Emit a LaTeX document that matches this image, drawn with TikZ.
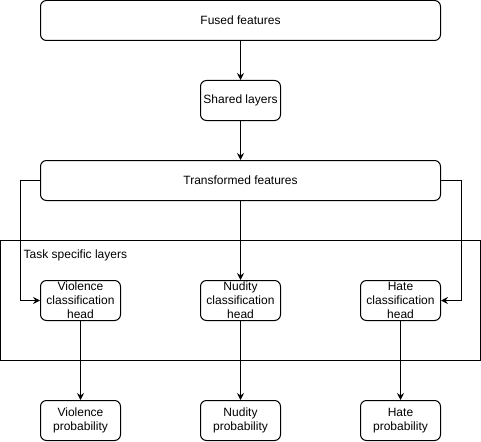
\documentclass[tikz,border=0pt]{standalone}
\usepackage{fontspec}
\setmainfont{Liberation Sans}
\usetikzlibrary{arrows.meta}
\begin{document}
\begin{tikzpicture}[x=1pt,y=-1pt,
  every node/.style={font=\fontsize{12}{14}\selectfont},
  box/.style={draw, line width=1pt, rounded corners=6pt, minimum height=40pt, inner sep=0pt},
  wide/.style={box, minimum width=400pt},
  small/.style={box, minimum width=80pt},
  txt/.style={align=center, inner sep=0pt},
  arr/.style={draw, line width=1pt, -{Stealth[length=7pt,width=7pt,inset=2.5pt]}}
]
\useasboundingbox (-0.5,-0.5) rectangle (480.5,440.5);
\node[wide] (fused) at (240,20) {Fused features};
\node[small] (shared) at (240,100) {Shared layers};
\node[wide] (trans) at (240,180) {Transformed features};
\node[draw, line width=1pt, minimum width=480pt, minimum height=120pt, inner sep=0pt] (task) at (240,300) {};
\node[txt, anchor=west] (tasklbl) at (23,255) {Task specific layers};
\node[small, label={[txt]center:Violence\\classification\\head}] (vh) at (80,300) {};
\node[small, label={[txt]center:Nudity\\classification\\head}] (nh) at (240,300) {};
\node[small, label={[txt]center:Hate\\classification\\head}] (hh) at (400,300) {};
\node[small, label={[txt]center:Violence\\probability}] (vp) at (80,420) {};
\node[small, label={[txt]center:Nudity\\probability}] (np) at (240,420) {};
\node[small, label={[txt]center:Hate\\probability}] (hp) at (400,420) {};
\draw[arr] (fused) -- (shared);
\draw[arr] (shared) -- (trans);
\draw[arr] (trans.west) -- ++(-20,0) |- (vh.west);
\draw[arr] (trans.east) -- ++(20,0) |- (hh.east);
\draw[arr] (trans) -- (nh);
\draw[arr] (vh) -- (vp);
\draw[arr] (nh) -- (np);
\draw[arr] (hh) -- (hp);
\end{tikzpicture}
\end{document}
